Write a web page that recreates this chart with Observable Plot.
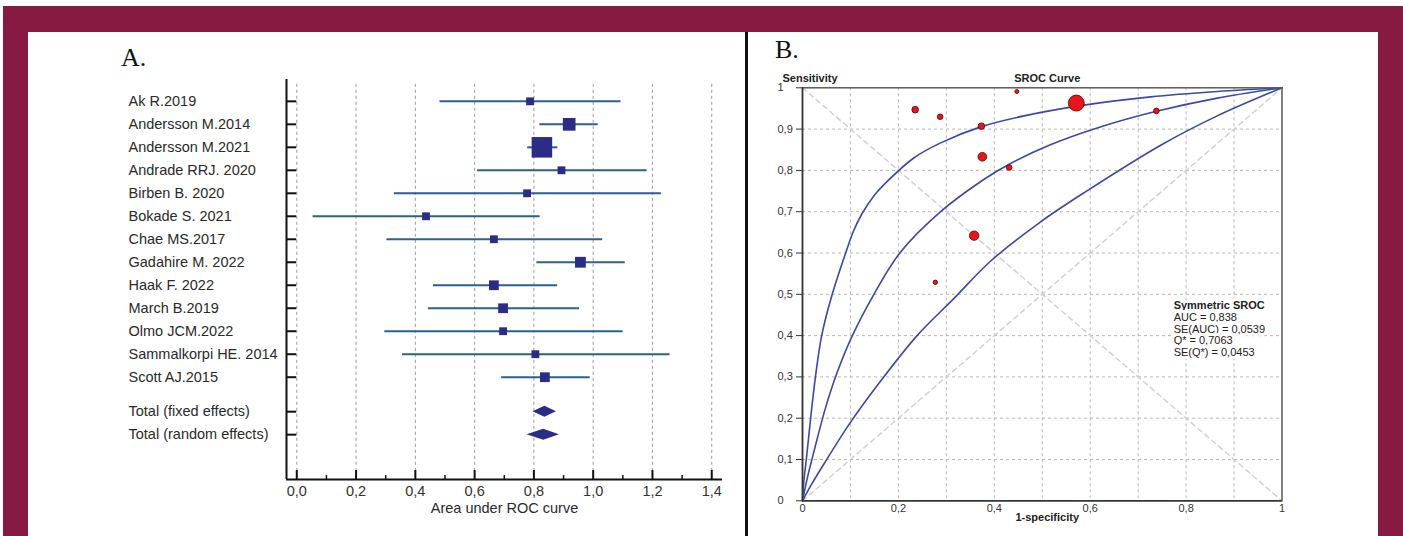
<!DOCTYPE html>
<html>
<head>
<meta charset="utf-8">
<script src="https://cdn.jsdelivr.net/npm/d3@7"></script>
<script src="https://cdn.jsdelivr.net/npm/@observablehq/plot@0.6"></script>
<style>
  body { margin: 0; background: #fff; }
  #page { position: relative; width: 1403px; height: 536px; overflow: hidden; background: #fff; }
  #frame { position: absolute; left: 3px; top: 6px; width: 1400px; height: 530px; background: #861a43; }
  #inner { position: absolute; left: 28px; top: 32px; width: 1350px; height: 504px; background: #fff; }
  #divider { position: absolute; left: 745px; top: 32px; width: 3px; height: 504px; background: #111; }
  .lab { position: absolute; font-family: "Liberation Serif", "Times New Roman", serif; font-size: 26px; line-height: 1; color: #111; }
  #chartA { position: absolute; left: 28px; top: 32px; }
  #chartB { position: absolute; left: 749px; top: 32px; }
</style>
</head>
<body>
<div id="page">
  <div id="frame"></div>
  <div id="inner"></div>
  <div id="divider"></div>
  <div class="lab" style="left:121px;top:45px;">A.</div>
  <div class="lab" style="left:775px;top:37px;">B.</div>
  <div id="chartA"></div>
  <div id="chartB"></div>
</div>
<script>
// ---------- Panel A: forest plot of AUC ----------
const studies = ["Ak R.2019", "Andersson M.2014", "Andersson M.2021", "Andrade RRJ. 2020", "Birben B. 2020",
  "Bokade S. 2021", "Chae MS.2017", "Gadahire M. 2022", "Haak F. 2022", "March B.2019", "Olmo JCM.2022",
  "Sammalkorpi HE. 2014", "Scott AJ.2015"];
const studyAuc   = [0.787, 0.919, 0.827, 0.893, 0.777, 0.436, 0.665, 0.957, 0.665, 0.696, 0.696, 0.805, 0.837];
const studyLower = [0.483, 0.820, 0.779, 0.610, 0.329, 0.055, 0.304, 0.810, 0.461, 0.444, 0.297, 0.357, 0.691];
const studyUpper = [1.094, 1.017, 0.881, 1.182, 1.230, 0.821, 1.032, 1.108, 0.880, 0.954, 1.101, 1.259, 0.990];
const studyWeight = [2.9, 7.6, 20, 2.9, 2.9, 2.9, 2.9, 5.5, 4.5, 4.5, 2.9, 2.9, 4.5];
const totals = ["Total (fixed effects)", "Total (random effects)"];
const totalAuc   = [0.837, 0.833];
const totalLower = [0.797, 0.777];
const totalUpper = [0.876, 0.886];
const aucTicks = [0, 0.2, 0.4, 0.6, 0.8, 1.0, 1.2, 1.4];
const aucMinorTicks = [0.1, 0.3, 0.5, 0.7, 0.9, 1.1, 1.3];
const totalRows = [13.5, 14.5];

// ---------- Panel B: SROC ----------
const pointFpr  = [0.447, 0.571, 0.235, 0.287, 0.373, 0.375, 0.431, 0.738, 0.358, 0.277];
const pointSens = [0.991, 0.963, 0.947, 0.930, 0.907, 0.833, 0.807, 0.944, 0.642, 0.529];
const pointN    = [4, 64, 11, 8, 11, 19, 8, 8, 22, 5];
const upperFpr  = [0, 0.003, 0.008, 0.017, 0.027, 0.040, 0.062, 0.090, 0.106, 0.124, 0.150, 0.180, 0.232, 0.287, 0.373, 0.462, 0.587, 0.726, 0.865, 1];
const upperSens = [0, 0.05, 0.10, 0.20, 0.30, 0.40, 0.50, 0.60, 0.652, 0.695, 0.740, 0.777, 0.830, 0.866, 0.906, 0.932, 0.958, 0.978, 0.991, 1];
const midFpr    = [0, 0.010, 0.024, 0.048, 0.072, 0.104, 0.149, 0.203, 0.288, 0.378, 0.431, 0.517, 0.621, 0.738, 0.865, 1];
const midSens   = [0, 0.055, 0.12, 0.225, 0.31, 0.40, 0.50, 0.60, 0.70, 0.778, 0.815, 0.862, 0.905, 0.943, 0.975, 1];
const lowFpr    = [0, 0.020, 0.044, 0.100, 0.163, 0.239, 0.316, 0.392, 0.496, 0.594, 0.747, 0.865, 1];
const lowSens   = [0, 0.042, 0.088, 0.19, 0.29, 0.40, 0.49, 0.58, 0.675, 0.751, 0.861, 0.932, 1];
const gridTicks = [0.1, 0.2, 0.3, 0.4, 0.5, 0.6, 0.7, 0.8, 0.9];
const yTicksB = [0, 0.1, 0.2, 0.3, 0.4, 0.5, 0.6, 0.7, 0.8, 0.9, 1];
const xTicksB = [0, 0.2, 0.4, 0.6, 0.8, 1];
const chanceLine = [{x: 0, y: 0}, {x: 1, y: 1}];
const antiDiagonal = [{x: 0, y: 1}, {x: 1, y: 0}];
const statsTitle = "Symmetric SROC";
const statsLines = ["AUC = 0,838", "SE(AUC) = 0,0539", "Q* = 0,7063", "SE(Q*) = 0,0453"];

const comma = d => (d === 0 ? "0" : d === 1 ? "1" : String(d).replace(".", ","));

// ----- build A -----
const forest = studies.map((name, i) => ({name, row: i, auc: studyAuc[i], lo: studyLower[i], hi: studyUpper[i], w: studyWeight[i]}));
const totalRowsData = totals.map((name, i) => ({name, row: totalRows[i], auc: totalAuc[i], lo: totalLower[i], hi: totalUpper[i]}));
const halfH = 0.24;
const diamonds = totalRowsData.flatMap(d => [
  {name: d.name, y: d.row - halfH, x1: d.auc, x2: d.auc},
  {name: d.name, y: d.row, x1: d.lo, x2: d.hi},
  {name: d.name, y: d.row + halfH, x1: d.auc, x2: d.auc}
]);
const allRows = [...forest, ...totalRowsData];
const xDomA = [-0.0347, 1.4363];
const yDomA = [-0.95, 16.45];
const navy = "#2b2c85";

const plotA = Plot.plot({
  width: 717, height: 504,
  marginLeft: 258, marginRight: 23, marginTop: 47, marginBottom: 57,
  x: {domain: xDomA},
  y: {domain: yDomA, reverse: true},
  r: {type: "sqrt", domain: [0, 20], range: [0, 11.6]},
  style: {fontFamily: "Liberation Sans, Arial, sans-serif", fontSize: "14.5px", color: "#2a2a2a", background: "transparent", overflow: "visible"},
  marks: [
    Plot.ruleX(aucTicks, {y1: -0.74, y2: yDomA[1], stroke: "#9a9a9a", strokeDasharray: "3,3", strokeWidth: 1}),
    Plot.ruleY(forest, {y: "row", x1: "lo", x2: "hi", stroke: "#2b6191", strokeWidth: 2}),
    Plot.dot(forest, {x: "auc", y: "row", r: "w", symbol: "square", fill: navy}),
    Plot.areaX(diamonds, {y: "y", x1: "x1", x2: "x2", z: "name", fill: navy}),
    Plot.ruleX([xDomA[0]], {y1: yDomA[0], y2: yDomA[1], stroke: "#111", strokeWidth: 2}),
    Plot.ruleY([yDomA[1]], {x1: xDomA[0], x2: xDomA[1], stroke: "#111", strokeWidth: 2}),
    Plot.ruleY(allRows, {y: "row", x1: xDomA[0], x2: 0, stroke: "#111", strokeWidth: 2}),
    Plot.ruleX(aucTicks, {y1: yDomA[1], y2: yDomA[1] - 0.39, stroke: "#111", strokeWidth: 2}),
    Plot.ruleX(aucMinorTicks, {y1: yDomA[1], y2: yDomA[1] - 0.17, stroke: "#111", strokeWidth: 1.5}),
    Plot.axisX(aucTicks, {tickSize: 0, tickPadding: 6, tickFormat: d => d.toFixed(1).replace(".", ","), label: null, fill: "#333"}),
    Plot.axisY([], {label: null}),
    Plot.text(allRows, {frameAnchor: "left", y: "row", text: "name", textAnchor: "start", dx: -158, fill: "#2a2a2a"}),
    Plot.text(["Area under ROC curve"], {frameAnchor: "bottom", dy: 33, fill: "#2a2a2a"})
  ]
});
document.getElementById("chartA").appendChild(plotA);

// ----- build B -----
const points = pointFpr.map((x, i) => ({x, y: pointSens[i], n: pointN[i]}));
const curves = [
  ...upperFpr.map((x, i) => ({curve: "upper", x, y: upperSens[i]})),
  ...midFpr.map((x, i) => ({curve: "mid", x, y: midSens[i]})),
  ...lowFpr.map((x, i) => ({curve: "low", x, y: lowSens[i]}))
];

const plotB = Plot.plot({
  width: 629, height: 504,
  marginLeft: 53, marginRight: 96.5, marginTop: 55.3, marginBottom: 35.7,
  x: {domain: [0, 1]},
  y: {domain: [0, 1]},
  r: {type: "sqrt", domain: [0, 64], range: [0, 8]},
  style: {fontFamily: "Liberation Sans, Arial, sans-serif", fontSize: "11px", color: "#333", background: "transparent", overflow: "visible"},
  marks: [
    Plot.ruleX(gridTicks, {stroke: "#b8b8b8", strokeDasharray: "3,3"}),
    Plot.ruleY(gridTicks, {stroke: "#b8b8b8", strokeDasharray: "3,3"}),
    Plot.line(chanceLine, {x: "x", y: "y", stroke: "#d2d2d2", strokeDasharray: "5,4"}),
    Plot.line(antiDiagonal, {x: "x", y: "y", stroke: "#d2d2d2", strokeDasharray: "5,4"}),
    Plot.line(curves, {x: "x", y: "y", z: "curve", stroke: "#3c48a8", strokeWidth: 1.6, curve: "catmull-rom"}),
    Plot.dot(points, {x: "x", y: "y", r: "n", fill: "#e8161c", stroke: "#5a0000", strokeWidth: 0.8}),
    Plot.text([statsTitle], {x: 0.774, y: 0.473, textAnchor: "start", fontWeight: "bold", stroke: "white", strokeWidth: 6, fill: "#222"}),
    Plot.text([statsLines.join("\n")], {x: 0.774, y: 0.402, textAnchor: "start", lineHeight: 1.06, stroke: "white", strokeWidth: 6, fill: "#222"}),
    Plot.frame({stroke: "#5a5a5a", strokeWidth: 1.5}),
    Plot.ruleX([0], {stroke: "#333", strokeWidth: 1.5}),
    Plot.ruleY([0], {stroke: "#333", strokeWidth: 1.5}),
    Plot.axisY(yTicksB, {tickSize: 6, tickPadding: 19, textAnchor: "start", tickFormat: comma, label: null, stroke: "#333"}),
    Plot.axisX(xTicksB, {tickSize: 0, tickPadding: 3, tickFormat: comma, label: null}),
    Plot.text(["1-specificity"], {frameAnchor: "bottom", dy: 20, dx: 5, fontWeight: "bold", fill: "#222"}),
    Plot.text(["Sensitivity"], {frameAnchor: "top-left", dx: -20, dy: -14, textAnchor: "start", fontWeight: "bold", fill: "#222"}),
    Plot.text(["SROC Curve"], {frameAnchor: "top", dx: 5, dy: -14, fontWeight: "bold", fill: "#222"})
  ]
});
document.getElementById("chartB").appendChild(plotB);
</script>
</body>
</html>
